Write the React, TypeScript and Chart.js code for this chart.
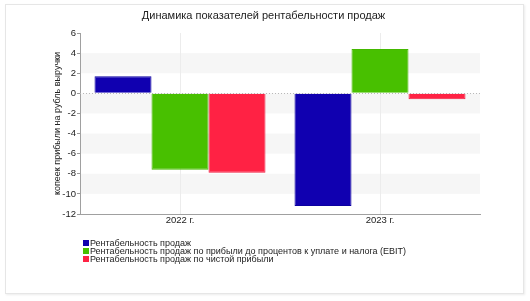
import React, { useEffect, useRef } from "react";
import { Chart, registerables } from "chart.js";

Chart.register(...registerables);

const titleText = "Динамика показателей рентабельности продаж";
const yAxisTitle = "копеек прибыли на рубль выручки";
const categories = ["2022 г.", "2023 г."];
const seriesNames = [
  "Рентабельность продаж",
  "Рентабельность продаж по прибыли до процентов к уплате и налога (EBIT)",
  "Рентабельность продаж по чистой прибыли",
];
const salesMargin = [1.7, -11.2];
const ebitMargin = [-7.6, 4.4];
const netMargin = [-7.9, -0.6];
const seriesColors = ["#1000b0", "#48c000", "#ff2244"];
const seriesBorders = ["#0c00a0", "#44b800", "#f01e40"];
const yMin = -12;
const yMax = 6;
const yStep = 2;

const FONT = "'Liberation Sans', Arial, sans-serif";

const bandsPlugin = {
  id: "bands",
  beforeDraw(chart: any) {
    const { ctx, chartArea, scales } = chart;
    const y = scales.y;
    ctx.save();
    ctx.fillStyle = "#f6f6f6";
    for (let v = yMax; v > yMin; v -= yStep) {
      if (v % 4 === 0) {
        const top = y.getPixelForValue(v);
        const bottom = y.getPixelForValue(v - yStep);
        ctx.fillRect(chartArea.left, top, chartArea.right - chartArea.left, bottom - top);
      }
    }
    ctx.restore();
  },
  beforeDatasetsDraw(chart: any) {
    const { ctx, chartArea, scales } = chart;
    const y0 = Math.round(scales.y.getPixelForValue(0)) + 0.5;
    ctx.save();
    ctx.strokeStyle = "#b8b8b8";
    ctx.lineWidth = 1;
    ctx.setLineDash([1, 2]);
    ctx.beginPath();
    ctx.moveTo(chartArea.left, y0);
    ctx.lineTo(chartArea.right, y0);
    ctx.stroke();
    ctx.restore();
  },
};

export default function App() {
  const canvasRef = useRef<HTMLCanvasElement | null>(null);

  useEffect(() => {
    if (!canvasRef.current) return;
    const values = [salesMargin, ebitMargin, netMargin];
    const chart = new Chart(canvasRef.current, {
      type: "bar",
      data: {
        labels: categories,
        datasets: seriesNames.map((name, i) => ({
          label: name,
          data: values[i],
          backgroundColor: seriesColors[i],
          borderColor: seriesBorders[i],
          borderWidth: 1,
          categoryPercentage: 0.855,
          barPercentage: 1,
        })),
      },
      options: {
        animation: false,
        responsive: false,
        maintainAspectRatio: false,
        layout: { padding: { left: 47, right: 50, top: 0, bottom: 0 } },
        plugins: {
          legend: { display: false },
          tooltip: { enabled: false },
          title: {
            display: true,
            text: titleText,
            color: "#222",
            font: { family: FONT, size: 11, weight: "normal" },
            padding: { top: 9.5, bottom: 10.3 },
          },
        },
        scales: {
          x: {
            afterFit(scale: any) {
              scale.height = 87;
            },
            grid: {
              offset: false,
              color: "#ececec",
              drawTicks: false,
            },
            border: { color: "#a0a0a0" },
            ticks: {
              color: "#222",
              padding: 1,
              font: { family: FONT, size: 9.5 },
            },
          },
          y: {
            min: yMin,
            max: yMax,
            afterFit(scale: any) {
              scale.width = 33;
            },
            ticks: {
              stepSize: yStep,
              color: "#222",
              padding: 1,
              font: { family: FONT, size: 9.5 },
            },
            grid: {
              drawOnChartArea: false,
              drawTicks: true,
              tickLength: 3,
              tickColor: "#999",
              color: "#999",
            },
            border: { color: "#a0a0a0" },
            title: {
              display: true,
              text: yAxisTitle,
              color: "#222",
              font: { family: FONT, size: 9 },
              padding: { top: 5.3, bottom: 0 },
            },
          },
        },
      },
      plugins: [bandsPlugin],
    });
    return () => chart.destroy();
  }, []);

  const rowCenters = [242.7, 251, 259.3];

  return (
    <div
      style={{
        position: "absolute",
        left: 0,
        top: 0,
        width: 530,
        height: 301,
        background: "#fff",
        overflow: "hidden",
      }}
    >
      <div
        style={{
          position: "absolute",
          left: 5,
          top: 4,
          width: 517,
          height: 288,
          border: "1px solid #e6e6e6",
          boxShadow: "1px 1px 2px rgba(0,0,0,0.08)",
        }}
      />
      <canvas
        ref={canvasRef}
        width={530}
        height={301}
        style={{ position: "absolute", left: 0, top: 0, width: 530, height: 301 }}
      />
      {seriesNames.map((name, i) => (
        <div
          key={name}
          style={{
            position: "absolute",
            left: 83,
            top: rowCenters[i] - 6,
            height: 12,
            display: "flex",
            alignItems: "center",
            fontFamily: FONT,
            fontSize: 9,
            color: "#222",
            whiteSpace: "nowrap",
          }}
        >
          <span
            style={{
              display: "inline-block",
              width: 6,
              height: 6,
              background: seriesColors[i],
              marginRight: 1,
            }}
          />
          <span>{name}</span>
        </div>
      ))}
    </div>
  );
}
